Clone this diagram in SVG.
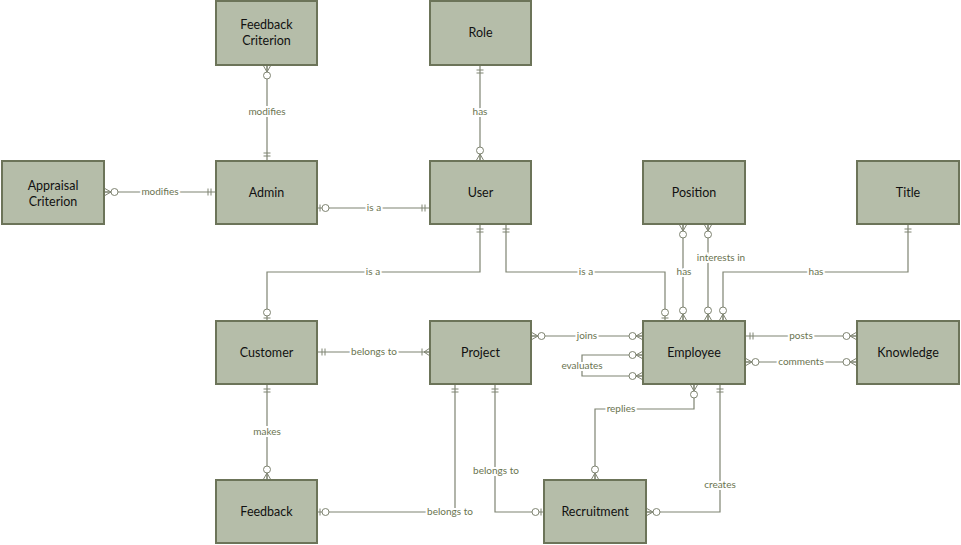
<svg xmlns="http://www.w3.org/2000/svg" width="961" height="545" viewBox="0 0 961 545">
<style>
.n rect{fill:#b5bda9;stroke:#6c7459;stroke-width:2}
.n text{font-family:Lato,"Liberation Sans",sans-serif;font-size:12.5px;fill:#111;text-anchor:middle;dominant-baseline:middle}
.e path{fill:none;stroke:#7f8472;stroke-width:1.2}
.l{font-family:Lato,"Liberation Sans",sans-serif;font-size:10px;fill:#6a7450;text-anchor:middle;dominant-baseline:middle;stroke:#fff;stroke-width:4;paint-order:stroke}
.m{fill:#fff;stroke:#7f8472;stroke-width:1}
</style>
<defs>
<marker id="zm" viewBox="-16 -6 20 12" refX="0" refY="0" markerWidth="20" markerHeight="12" markerUnits="userSpaceOnUse" orient="auto-start-reverse" overflow="visible">
<path class="m" d="M-7 0L0 -4M-7 0L0 0M-7 0L0 4"/>
<circle class="m" cx="-10.5" cy="0" r="3.5"/>
</marker>
<marker id="oo" viewBox="-16 -6 20 12" refX="0" refY="0" markerWidth="20" markerHeight="12" markerUnits="userSpaceOnUse" orient="auto-start-reverse" overflow="visible">
<path class="m" d="M-5 -3.5V3.5M-8 -3.5V3.5"/>
</marker>
<marker id="zo" viewBox="-16 -6 20 12" refX="0" refY="0" markerWidth="20" markerHeight="12" markerUnits="userSpaceOnUse" orient="auto-start-reverse" overflow="visible">
<path class="m" d="M-3 -3.5V3.5"/>
<circle class="m" cx="-8.5" cy="0" r="3.5"/>
</marker>
<marker id="om" viewBox="-16 -6 20 12" refX="0" refY="0" markerWidth="20" markerHeight="12" markerUnits="userSpaceOnUse" orient="auto-start-reverse" overflow="visible">
<path class="m" d="M-6 0L0 -4M-6 0L0 0M-6 0L0 4M-8 -3.5V3.5"/>
</marker>
</defs>
<g id="connectors" class="e">
<path d="M267 65V161" marker-start="url(#zm)" marker-end="url(#oo)"/>
<path d="M104 192H216" marker-start="url(#zm)" marker-end="url(#oo)"/>
<path d="M317 208H430" marker-start="url(#zo)" marker-end="url(#oo)"/>
<path d="M480 65V161" marker-start="url(#oo)" marker-end="url(#zm)"/>
<path d="M480 224V272H267V321" marker-start="url(#oo)" marker-end="url(#zo)"/>
<path d="M506 224V272H665V321" marker-start="url(#oo)" marker-end="url(#zo)"/>
<path d="M683 224V321" marker-start="url(#zm)" marker-end="url(#zm)"/>
<path d="M708 224V321" marker-start="url(#zm)" marker-end="url(#zm)"/>
<path d="M908 224V272H723V321" marker-start="url(#oo)" marker-end="url(#zm)"/>
<path d="M317 352H430" marker-start="url(#oo)" marker-end="url(#om)"/>
<path d="M531 336H643" marker-start="url(#zm)" marker-end="url(#zm)"/>
<path d="M643 355H582V376H643" marker-start="url(#zm)" marker-end="url(#zm)"/>
<path d="M745 336H857" marker-start="url(#oo)" marker-end="url(#zm)"/>
<path d="M745 362H857" marker-start="url(#zm)" marker-end="url(#zm)"/>
<path d="M267 384V480" marker-start="url(#oo)" marker-end="url(#zm)"/>
<path d="M455 384V512H317" marker-start="url(#oo)" marker-end="url(#zo)"/>
<path d="M495 384V512H544" marker-start="url(#oo)" marker-end="url(#zo)"/>
<path d="M694 384V409H595V480" marker-start="url(#zm)" marker-end="url(#zm)"/>
<path d="M720 384V512H646" marker-start="url(#oo)" marker-end="url(#zm)"/>
<text class="l" x="267" y="112.5">modifies</text>
<text class="l" x="160" y="192.5">modifies</text>
<text class="l" x="374" y="208.5">is a</text>
<text class="l" x="480" y="112.5">has</text>
<text class="l" x="373" y="272.5">is a</text>
<text class="l" x="586" y="272.5">is a</text>
<text class="l" x="684" y="272.5">has</text>
<text class="l" x="721" y="258.5">interests in</text>
<text class="l" x="816" y="272.5">has</text>
<text class="l" x="374" y="352.5">belongs to</text>
<text class="l" x="587" y="336.5">joins</text>
<text class="l" x="582" y="366.5">evaluates</text>
<text class="l" x="801" y="336.5">posts</text>
<text class="l" x="801" y="362.5">comments</text>
<text class="l" x="267" y="432.5">makes</text>
<text class="l" x="450" y="512.5">belongs to</text>
<text class="l" x="496" y="471.5">belongs to</text>
<text class="l" x="621" y="409.5">replies</text>
<text class="l" x="720" y="485.5">creates</text>
</g>
<g id="feedbackCriterion" class="n"><rect x="216" y="1" width="101" height="64"/><text x="266.5" y="26">Feedback</text><text x="266.5" y="42">Criterion</text></g>
<g id="role" class="n"><rect x="430" y="1" width="101" height="64"/><text x="480.5" y="34">Role</text></g>
<g id="appraisalCriterion" class="n"><rect x="2" y="161" width="102" height="63"/><text x="53" y="186.5">Appraisal</text><text x="53" y="202.5">Criterion</text></g>
<g id="admin" class="n"><rect x="216" y="161" width="101" height="63"/><text x="266.5" y="194">Admin</text></g>
<g id="user" class="n"><rect x="430" y="161" width="101" height="63"/><text x="480.5" y="194">User</text></g>
<g id="position" class="n"><rect x="643" y="161" width="102" height="63"/><text x="694" y="194">Position</text></g>
<g id="title" class="n"><rect x="857" y="161" width="102" height="63"/><text x="908" y="194">Title</text></g>
<g id="customer" class="n"><rect x="216" y="321" width="101" height="63"/><text x="266.5" y="353.5">Customer</text></g>
<g id="project" class="n"><rect x="430" y="321" width="101" height="63"/><text x="480.5" y="353.5">Project</text></g>
<g id="employee" class="n"><rect x="643" y="321" width="102" height="63"/><text x="694" y="353.5">Employee</text></g>
<g id="knowledge" class="n"><rect x="857" y="321" width="102" height="63"/><text x="908" y="353.5">Knowledge</text></g>
<g id="feedback" class="n"><rect x="216" y="480" width="101" height="63"/><text x="266.5" y="513">Feedback</text></g>
<g id="recruitment" class="n"><rect x="544" y="480" width="102" height="63"/><text x="595" y="513">Recruitment</text></g>
</svg>
